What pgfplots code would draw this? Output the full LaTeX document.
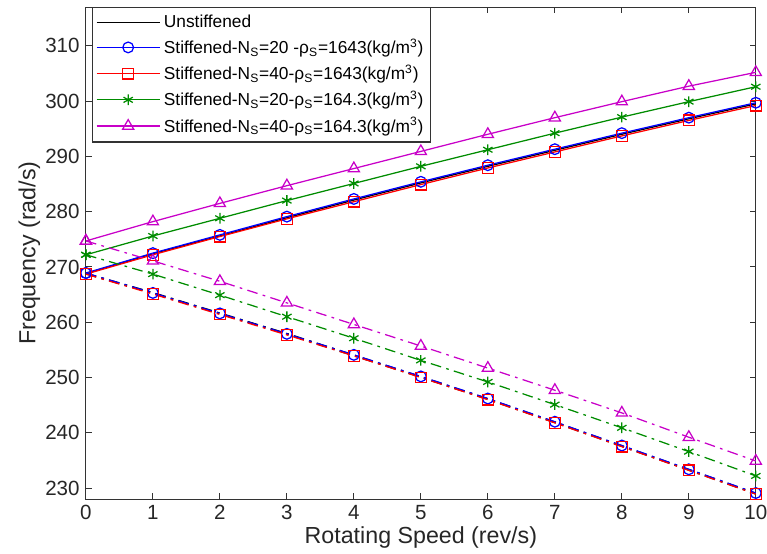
\documentclass[border=0pt]{standalone}
\usepackage{fontspec}
\setmainfont{Liberation Sans}
\usepackage{pgfplots}
\pgfplotsset{compat=1.18}

\definecolor{mblue}{RGB}{0,0,255}
\definecolor{mred}{RGB}{255,0,0}
\definecolor{mgreen}{RGB}{0,140,0}
\definecolor{mmag}{RGB}{200,0,200}

\begin{document}
\begin{tikzpicture}
\begin{axis}[
  name=main,
  scale only axis,
  width=13.18cm, height=9.68cm,
  xmin=0, xmax=10, ymin=228, ymax=317,
  xtick={0,1,...,10},
  ytick={230,240,...,310},
  tick align=inside,
  major tick length=0.12cm,
  axis line style={line width=0.6pt, black!80},
  every tick/.style={black!80, line width=0.6pt},
  tick label style={font=\fontsize{11.5}{13}\selectfont, black!85},
  /pgf/number format/assume math mode=true,
  xlabel={Rotating Speed (rev/s)},
  ylabel={Frequency (rad/s)},
  label style={font=\fontsize{13}{15}\selectfont, black!85},
  xlabel style={yshift=3pt},
  ylabel style={yshift=-4pt},
  legend cell align=left,
  legend style={at={(rel axis cs:0.009,1)}, anchor=north west,
    font=\fontsize{9.7}{11.6}\selectfont, draw=black!80, line width=0.6pt,
    row sep=0.8pt, inner sep=2pt},
  legend image code/.code={\draw[mark repeat=2,mark phase=2] plot coordinates {(0cm,0cm) (0.62cm,0cm) (1.24cm,0cm)};},
  every axis plot/.append style={line width=0.7pt},
  mark options={solid},
]
% upper branch (solid)
\addplot[black, no marks] coordinates {
  (0,268.8) (1,272.4) (2,275.6) (3,278.9) (4,282.1) (5,285.2) (6,288.2) (7,291.1) (8,294.0) (9,296.8) (10,299.5)};
\addlegendentry{Unstiffened}
\addplot[mblue, mark=o, mark size=3pt] coordinates {
  (0,268.9) (1,272.5) (2,275.8) (3,279.1) (4,282.3) (5,285.4) (6,288.4) (7,291.3) (8,294.2) (9,297.0) (10,299.7)};
\addlegendentry{Stiffened-N\textsubscript{S}=20 -ρ\textsubscript{S}=1643(kg/m\textsuperscript{3})}
\addplot[mred, mark=square, mark size=3pt] coordinates {
  (0,268.7) (1,272.2) (2,275.5) (3,278.7) (4,281.8) (5,284.9) (6,287.9) (7,290.8) (8,293.7) (9,296.5) (10,299.2)};
\addlegendentry{Stiffened-N\textsubscript{S}=40-ρ\textsubscript{S}=1643(kg/m\textsuperscript{3})}
\addplot[mgreen, mark=asterisk, mark size=3pt] coordinates {
  (0,272.2) (1,275.6) (2,278.8) (3,282.0) (4,285.1) (5,288.2) (6,291.2) (7,294.2) (8,297.1) (9,299.9) (10,302.6)};
\addlegendentry{Stiffened-N\textsubscript{S}=20-ρ\textsubscript{S}=164.3(kg/m\textsuperscript{3})}
\addplot[mmag, mark=triangle, mark size=3.6pt] coordinates {
  (0,274.7) (1,278.2) (2,281.5) (3,284.7) (4,287.8) (5,290.9) (6,294.0) (7,297.0) (8,299.9) (9,302.7) (10,305.2)};
\addlegendentry{Stiffened-N\textsubscript{S}=40-ρ\textsubscript{S}=164.3(kg/m\textsuperscript{3})}
% lower branch (dash-dot)
\addplot[black, no marks, forget plot, line width=1.1pt, dash pattern=on 6pt off 3pt on 1.5pt off 3pt] coordinates {
  (0,268.8) (1,265.3) (2,261.6) (3,257.9) (4,254.0) (5,250.1) (6,246.1) (7,241.9) (8,237.6) (9,233.3) (10,229.0)};
\addplot[mblue, mark=o, mark size=3pt, forget plot, dash pattern=on 6pt off 3pt on 1.5pt off 3pt] coordinates {
  (0,268.9) (1,265.3) (2,261.6) (3,257.9) (4,254.1) (5,250.2) (6,246.2) (7,242.0) (8,237.7) (9,233.4) (10,229.1)};
\addplot[mred, mark=square, mark size=3pt, forget plot, dash pattern=on 6pt off 3pt on 1.5pt off 3pt] coordinates {
  (0,268.7) (1,265.1) (2,261.4) (3,257.7) (4,253.9) (5,250.0) (6,246.0) (7,241.8) (8,237.5) (9,233.2) (10,228.9)};
\addplot[mgreen, mark=asterisk, mark size=3pt, forget plot, dash pattern=on 6pt off 3pt on 1.5pt off 3pt] coordinates {
  (0,272.2) (1,268.7) (2,264.9) (3,261.0) (4,257.1) (5,253.1) (6,249.2) (7,245.1) (8,240.9) (9,236.6) (10,232.2)};
\addplot[mmag, mark=triangle, mark size=3.6pt, forget plot, dash pattern=on 6pt off 3pt on 1.5pt off 3pt] coordinates {
  (0,274.7) (1,271.1) (2,267.4) (3,263.5) (4,259.6) (5,255.7) (6,251.7) (7,247.7) (8,243.6) (9,239.2) (10,234.9)};
\end{axis}
% page box: white margin left and top, room for the "10" at the right
\pgfresetboundingbox
\path ([xshift=-1.69cm,yshift=-1.06cm]main.south west) ([xshift=0.22cm,yshift=0.14cm]main.north east);
\end{tikzpicture}
\end{document}
